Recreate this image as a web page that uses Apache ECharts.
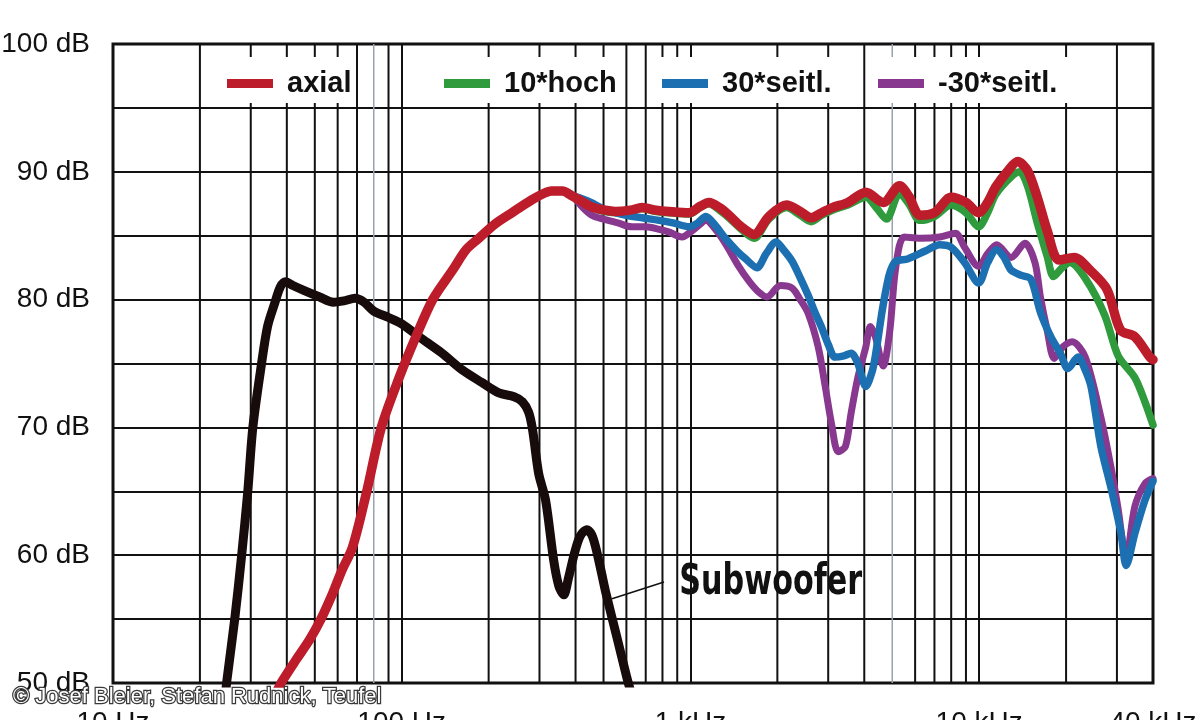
<!DOCTYPE html>
<html><head><meta charset="utf-8">
<script src="https://cdn.jsdelivr.net/npm/echarts@6/dist/echarts.min.js"></script>
<style>html,body{margin:0;padding:0;background:#fff}#c{width:1200px;height:720px}</style>
</head><body><div id="c"></div>
<script>
// ---- data (frequency in Hz, level in dB) ----
const seriesNames = ['axial', '10*hoch', '30*seitl.', '-30*seitl.'];
const subwooferName = 'Subwoofer';

const subwoofer = [[24.5,49],[24.8,50.2],[26.4,55],[27.9,60],[29.3,65],[30.5,70],[32.7,75],[34.3,77.9],[36.3,79.7],[38.0,81.0],[39.6,81.4],[42,81.1],[46,80.7],[52,80.2],[58,79.8],[63,79.9],[69,80.1],[74,79.8],[80,79.1],[90,78.6],[100,78.1],[118,76.9],[138,75.8],[162,74.5],[190,73.5],[217,72.7],[245,72.4],[262,72.0],[275,71.2],[284,69.8],[298,66.4],[315,64.3],[336,59.6],[350,57.6],[364,56.9],[378,58.2],[397,60.2],[415,61.5],[438,62.0],[455,61.6],[470,60.6],[490,58.8],[510,57.0],[556,53.6],[601,50.5],[627,49]];

const axial = [[36.3,49],[38.7,50.2],[43,51.8],[48,53.4],[52.5,55],[57.6,57],[62,58.8],[67.5,60.6],[75.5,64.9],[85,70.0],[98,73.9],[112,77.1],[128,80.0],[150,82.3],[167,83.9],[185,84.8],[210,85.9],[241,86.8],[282,87.8],[310,88.3],[330,88.5],[360,88.5],[390,88.1],[412,87.8],[450,87.3],[480,87.1],[550,86.9],[620,87.0],[680,87.2],[760,87.0],[840,86.9],[990,86.8],[1080,87.3],[1160,87.6],[1260,87.2],[1360,86.6],[1500,85.7],[1660,85.1],[1870,86.5],[2150,87.4],[2400,86.9],[2620,86.4],[2850,86.8],[3100,87.2],[3510,87.6],[4050,88.4],[4650,87.6],[5300,88.9],[5700,88.1],[6240,86.6],[7000,86.8],[8000,88.0],[9000,87.6],[9960,86.8],[10700,87.6],[11400,88.8],[12600,90.1],[13600,90.8],[14700,90.1],[15900,88.0],[17200,85.4],[18900,83.1],[21300,83.3],[24200,82.3],[27700,80.8],[30900,77.6],[34600,77.1],[39000,75.5],[40000,75.3]];

const hoch10 = [[395,88.0],[412,87.8],[450,87.3],[480,87.0],[550,86.8],[620,86.9],[680,87.1],[760,86.9],[840,86.8],[990,86.7],[1080,87.2],[1160,87.5],[1260,87.0],[1360,86.4],[1500,85.5],[1660,84.8],[1870,86.3],[2150,87.2],[2400,86.6],[2620,86.1],[2850,86.6],[3100,87.0],[3510,87.4],[4050,88.0],[4400,87.2],[4770,86.3],[5300,88.3],[5700,87.5],[6240,86.2],[7000,86.5],[8000,87.4],[9000,86.8],[9960,85.7],[10700,86.8],[11400,88.2],[12900,89.6],[13800,90.0],[14700,88.9],[15900,86.0],[17200,83.4],[18100,81.8],[19400,82.5],[20600,82.9],[23400,81.6],[27200,78.8],[30300,75.6],[34600,73.9],[37500,72.0],[40000,70.2]];

const seitl30 = [[395,88.1],[443,87.7],[500,87.1],[550,86.8],[600,86.6],[680,86.4],[780,86.2],[870,86.0],[990,85.7],[1060,86.0],[1130,86.5],[1220,85.8],[1320,84.8],[1450,83.8],[1550,83.2],[1700,82.5],[1830,83.6],[1980,84.5],[2100,83.9],[2250,83.0],[2400,81.7],[2560,80.3],[2700,79.0],[2850,77.8],[3000,76.5],[3170,75.5],[3400,75.6],[3600,75.8],[3800,75.0],[4050,73.2],[4250,74.3],[4370,75.6],[4620,79.2],[4860,81.8],[5000,82.6],[5140,83.0],[5680,83.2],[6500,83.8],[7300,84.3],[8000,84.1],[8900,82.9],[9960,81.3],[10700,82.9],[11500,83.9],[12200,83.3],[12900,82.3],[14000,81.9],[15100,81.6],[16300,79.0],[17700,77.1],[19100,75.8],[20300,74.6],[22000,75.5],[23200,74.6],[24400,73.2],[26400,68.5],[28600,65.3],[31000,61.7],[32300,59.2],[34600,61.7],[37500,64.3],[40000,65.8]];

const seitlMinus30 = [[395,88.0],[420,87.3],[455,86.6],[500,86.3],[560,86.0],[627,85.7],[700,85.7],[780,85.5],[840,85.3],[935,84.9],[1015,85.4],[1080,85.9],[1130,86.2],[1220,85.5],[1320,84.4],[1470,82.6],[1600,81.4],[1720,80.6],[1840,80.2],[2050,81.1],[2250,80.9],[2400,80.0],[2560,78.9],[2770,76.3],[2930,73.2],[3080,70.3],[3250,68.1],[3440,68.5],[3600,71.1],[3800,73.9],[4050,76.3],[4200,77.9],[4370,77.1],[4650,74.8],[4900,77.5],[5140,82.5],[5500,84.9],[6240,84.8],[7300,84.9],[8270,85.2],[8900,84.1],[9960,82.6],[10700,83.6],[11500,84.3],[12900,83.3],[14400,84.4],[15600,82.9],[16300,80.2],[17200,77.6],[18200,75.4],[19500,76.3],[21000,76.7],[23300,75.5],[26400,70.8],[28600,66.9],[30200,63.8],[32300,59.8],[34600,63.8],[37500,65.6],[40000,66.0]];

// gridline frequencies between the decade lines
const minorGridFreqs = [20,30,40,50,60,70,90,200,300,400,500,600,700,800,900,2000,3000,4000,6000,7000,8000,9000,20000,30000];
const lightGridFreqs = [80,5000];
// "Subwoofer" annotation: leader line and label anchor (Hz, dB)
const subwooferLeader = [[535,56.6],[810,57.9]];
const subwooferLabelAt = [915, 57.8];

const xMin = 10, xMax = 40000, yMin = 50, yMax = 100;

// ---- styles ----
const FONT = '"Liberation Sans", Arial, Helvetica, sans-serif';
const colors = { axial:'#bd1c2a', hoch:'#2f9b3d', s30:'#1c6fb0', sm30:'#88398f', sub:'#170b0b' };
const legendLeft = [221, 438, 656, 872];

function fmtFreq(v) {
  const r = Math.round(v);
  return r >= 1000 ? (Math.round(r / 100) / 10) + ' kHz' : r + ' Hz';
}

function vLine(color, width) {
  return function (params, api) {
    const f = api.value(0);
    const p1 = api.coord([f, yMin]);
    const p2 = api.coord([f, yMax]);
    return { type: 'line', shape: { x1: p1[0], y1: p1[1], x2: p2[0], y2: p2[1] },
             style: { stroke: color, lineWidth: width } };
  };
}

function lineSeries(name, data, color, width) {
  return { type: 'line', name: name, data: data, showSymbol: false, smooth: 0.3,
           lineStyle: { color: color, width: width, cap: 'round', join: 'round' },
           itemStyle: { color: color }, z: 3, silent: true, emphasis: { disabled: true } };
}

const sub = lineSeries(subwooferName, subwoofer, colors.sub, 9);
sub.markLine = {
  silent: true, symbol: ['none', 'none'], animation: false,
  lineStyle: { color: '#111', width: 1.6, type: 'solid' },
  label: { show: false },
  data: [[{ coord: subwooferLeader[0] }, { coord: subwooferLeader[1] }]]
};

const option = {
  animation: false,
  backgroundColor: '#fff',
  title: { text: '© Josef Bleier, Stefan Rudnick, Teufel', left: 13, top: 686, padding: 0,
           textStyle: { color: '#fff', fontSize: 22, fontWeight: 'normal', fontFamily: FONT,
                        textBorderColor: '#3a3a3a', textBorderWidth: 2.5 } },
  grid: { left: 113, right: 47, top: 44, bottom: 37, show: true, borderColor: '#111', borderWidth: 3,
          backgroundColor: 'transparent', containLabel: false, outerBoundsMode: 'none' },
  legend: seriesNames.map((n, i) => ({
    data: [n], left: legendLeft[i], top: 57, icon: 'rect', itemWidth: 46, itemHeight: 9,
    backgroundColor: '#fff', padding: [12, i === 3 ? 14 : 2, 5, 6], selectedMode: false,
    textStyle: { fontSize: 29, fontWeight: 'bold', color: '#111', fontFamily: FONT, padding: [0, 0, 0, 9] }
  })),
  xAxis: {
    type: 'log', logBase: 10, min: xMin, max: xMax,
    axisLine: { show: false }, axisTick: { show: false },
    axisLabel: { formatter: fmtFreq, fontSize: 28, color: '#111', fontFamily: FONT, margin: 26,
                 showMinLabel: true, showMaxLabel: true },
    splitLine: { show: true, lineStyle: { color: '#111', width: 2 } }
  },
  yAxis: {
    type: 'value', min: yMin, max: yMax, interval: 10,
    axisLine: { show: false }, axisTick: { show: false },
    axisLabel: { formatter: '{value} dB', fontSize: 28, color: '#111', fontFamily: FONT, margin: 23 },
    splitLine: { show: true, lineStyle: { color: '#111', width: 2 } },
    minorTick: { show: false, splitNumber: 2 },
    minorSplitLine: { show: true, lineStyle: { color: '#111', width: 2 } }
  },
  series: [
    { type: 'custom', renderItem: vLine('#111', 2), data: minorGridFreqs.map(f => [f, yMin]), silent: true, z: 1, clip: false },
    { type: 'custom', renderItem: vLine('#9aa2ae', 1.5), data: lightGridFreqs.map(f => [f, yMin]), silent: true, z: 1, clip: false },
    sub,
    lineSeries(seriesNames[1], hoch10, colors.hoch, 7.5),
    lineSeries(seriesNames[3], seitlMinus30, colors.sm30, 7),
    lineSeries(seriesNames[2], seitl30, colors.s30, 7.5),
    lineSeries(seriesNames[0], axial, colors.axial, 9.5)
  ]
};

const chart = echarts.init(document.getElementById('c'), null, { renderer: 'canvas' });
chart.setOption(option);

// place the condensed "Subwoofer" label at its data anchor
const lp = chart.convertToPixel({ gridIndex: 0 }, subwooferLabelAt);
chart.setOption({
  graphic: [{
    type: 'text', x: lp[0], y: lp[1], scaleX: 0.8, z: 10, silent: true,
    style: { text: subwooferName, fill: '#111', fontSize: 42, fontWeight: 'bold',
             fontFamily: '"DejaVu Sans Condensed", "Liberation Sans Narrow", Arial, sans-serif',
             align: 'left', verticalAlign: 'middle' }
  }]
});
</script>
</body></html>
